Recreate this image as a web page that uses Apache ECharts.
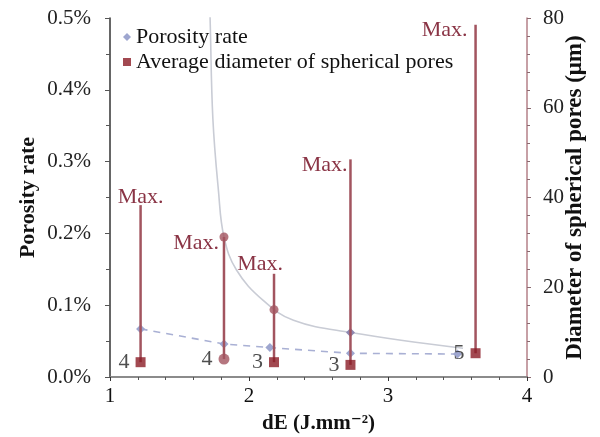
<!DOCTYPE html>
<html>
<head>
<meta charset="utf-8">
<script src="https://cdn.jsdelivr.net/npm/echarts@6/dist/echarts.min.js"></script>
<style>
    html, body { margin: 0; padding: 0; background: #fff; }
    #chart { width: 600px; height: 437px; }
</style>
</head>
<body>
<div id="chart"></div>
<script>
    // 能量密度 dE (J/mm2)
    const dE = [1.22, 1.82, 2.18, 2.73, 3.63];
    // 孔隙率 (%)，虚线
    const porosityX = [1.22, 1.82, 2.15, 2.73, 3.5];
    const porosityRate = [0.067, 0.046, 0.041, 0.033, 0.032];
    // 灰色趋势线
    const trendX = [1.70, 1.72, 1.74, 1.78, 1.82, 1.91, 2.1, 2.32, 2.73, 3.54];
    const trendRate = [0.62, 0.5, 0.36, 0.26, 0.195, 0.149, 0.107, 0.079, 0.062, 0.04];
    // 球形孔直径 (µm)
    const avgDiameter = [3.3, 4.0, 3.3, 2.7, 5.3];
    const maxDiameter = [38.3, 31.2, 23.0, 48.5, 78.5];
    const poreCount = [4, 4, 3, 3, 5];
    const extraX = [1.82, 2.18];
    const extraDiameter = [31.2, 15.0];

    const serif = '"Liberation Serif", "DejaVu Serif", serif';
    const barColor = '#a2545f';
    const maxColor = '#8a3445';
    // Max. 标签偏移
    const maxLabelDx = [23, -5, 9, -3, -8];
    const maxLabelDy = [-8, 6, -10, 6, 5];

    const chart = echarts.init(document.getElementById('chart'));

    const option = {
        animation: false,
        grid: { left: 110, right: 73, top: 18, bottom: 60, outerBoundsMode: 'none' },
        legend: {
            left: 118,
            top: 21,
            orient: 'vertical',
            itemGap: 3,
            itemWidth: 8,
            itemHeight: 8,
            textStyle: { fontFamily: serif, fontSize: 22, color: '#111' },
            data: [
                { name: 'Porosity rate', icon: 'diamond', itemStyle: { color: '#9ea6cf' } },
                { name: 'Average diameter of spherical pores', icon: 'rect', itemStyle: { color: '#8b1c26' } },
            ],
        },
        xAxis: [
            {
                type: 'value',
                min: 1,
                max: 4,
                interval: 1,
                name: 'dE (J.mm⁻²)',
                nameLocation: 'middle',
                nameGap: 36,
                nameMoveOverlap: false,
                nameTextStyle: { fontFamily: serif, fontSize: 21, fontWeight: 'bold', color: '#111' },
                axisLine: { lineStyle: { color: '#333', width: 1.5 } },
                axisTick: { length: 4, lineStyle: { color: '#333' } },
                minorTick: { show: true, splitNumber: 5, length: 3, lineStyle: { color: '#555' } },
                axisLabel: { fontFamily: serif, fontSize: 21, color: '#111', margin: 9 },
                splitLine: { show: false },
            },
            {
                type: 'value',
                position: 'top',
                min: 1,
                max: 4,
                axisLine: { show: true, lineStyle: { color: '#999', width: 1.5 } },
                axisTick: { show: false },
                axisLabel: { show: false },
                splitLine: { show: false },
            },
        ],
        yAxis: [
            {
                type: 'value',
                min: 0,
                max: 0.5,
                interval: 0.1,
                name: 'Porosity rate',
                nameLocation: 'middle',
                nameGap: 71,
                nameMoveOverlap: false,
                nameTextStyle: { fontFamily: serif, fontSize: 22, fontWeight: 'bold', color: '#111' },
                axisLine: { show: true, lineStyle: { color: '#333', width: 1.5 } },
                axisTick: { length: 5, lineStyle: { color: '#555' } },
                minorTick: { show: true, splitNumber: 2, length: 4, lineStyle: { color: '#555' } },
                axisLabel: {
                    fontFamily: serif,
                    fontSize: 21,
                    color: '#222',
                    margin: 19,
                    formatter: (v) => v.toFixed(1) + '%',
                },
                splitLine: { show: false },
            },
            {
                type: 'value',
                min: 0,
                max: 80,
                interval: 20,
                name: 'Diameter of spherical pores (μm)',
                nameLocation: 'middle',
                nameGap: 37,
                nameMoveOverlap: false,
                nameTextStyle: { fontFamily: serif, fontSize: 23, fontWeight: 'bold', color: '#111' },
                axisLine: { show: true, lineStyle: { color: '#b48088', width: 1.5 } },
                axisTick: { length: 4, lineStyle: { color: '#8a6a70' } },
                minorTick: { show: true, splitNumber: 5, length: 3, lineStyle: { color: '#8a6a70' } },
                axisLabel: { fontFamily: serif, fontSize: 21, color: '#222', margin: 16 },
                splitLine: { show: false },
            },
        ],
        series: [
            {
                name: 'trend',
                type: 'line',
                smooth: 0.4,
                symbol: 'none',
                lineStyle: { color: '#c9ccd5', width: 1.6 },
                data: trendX.map((x, i) => {
                    const item = { value: [x, trendRate[i]] };
                    // 2.73 处有数据点
                    if (x === 2.73) item.symbol = 'diamond', item.symbolSize = 9, item.itemStyle = { color: '#8e87b0' };
                    return item;
                }),
                z: 1,
            },
            {
                name: 'Porosity rate',
                type: 'line',
                symbol: 'diamond',
                symbolSize: 9,
                itemStyle: { color: '#9ea6cf' },
                lineStyle: { color: '#a9b0d4', width: 1.6, type: [7, 6] },
                data: porosityX.map((x, i) => [x, porosityRate[i]]),
                z: 2,
            },
            {
                name: 'range',
                type: 'custom',
                yAxisIndex: 1,
                encode: { x: 0, y: [1, 2] },
                data: dE.map((x, i) => [x, avgDiameter[i], maxDiameter[i]]),
                renderItem: (params, api) => {
                    const i = params.dataIndex;
                    const x = api.value(0);
                    const p0 = api.coord([x, api.value(1)]);
                    const p1 = api.coord([x, api.value(2)]);
                    return {
                        type: 'group',
                        children: [
                            {
                                type: 'line',
                                shape: { x1: p0[0], y1: p0[1], x2: p1[0], y2: p1[1] },
                                style: { stroke: barColor, lineWidth: 2.5 },
                            },
                            {
                                type: 'text',
                                x: p1[0] + maxLabelDx[i],
                                y: p1[1] + maxLabelDy[i],
                                style: {
                                    text: 'Max.',
                                    fill: maxColor,
                                    font: '22px ' + serif,
                                    align: 'right',
                                    verticalAlign: 'middle',
                                },
                            },
                        ],
                    };
                },
                z: 3,
            },
            {
                name: 'marks',
                type: 'scatter',
                yAxisIndex: 1,
                symbol: 'circle',
                symbolSize: 9,
                itemStyle: { color: barColor },
                data: extraX.map((x, i) => [x, extraDiameter[i]]),
                z: 4,
            },
            {
                name: 'Average diameter of spherical pores',
                type: 'scatter',
                yAxisIndex: 1,
                symbol: 'rect',
                symbolSize: 10,
                itemStyle: { color: '#8b1c26' },
                label: {
                    show: true,
                    position: 'left',
                    distance: 6,
                    fontFamily: serif,
                    fontSize: 22,
                    color: '#222',
                    formatter: (p) => String(poreCount[p.dataIndex]),
                },
                data: dE.map((x, i) => {
                    const item = { value: [x, avgDiameter[i]] };
                    if (i === 1) item.symbol = 'circle', item.symbolSize = 11, item.itemStyle = { color: barColor };
                    return item;
                }),
                z: 5,
            },
        ],
    };

    chart.setOption(option);
</script>
</body>
</html>
